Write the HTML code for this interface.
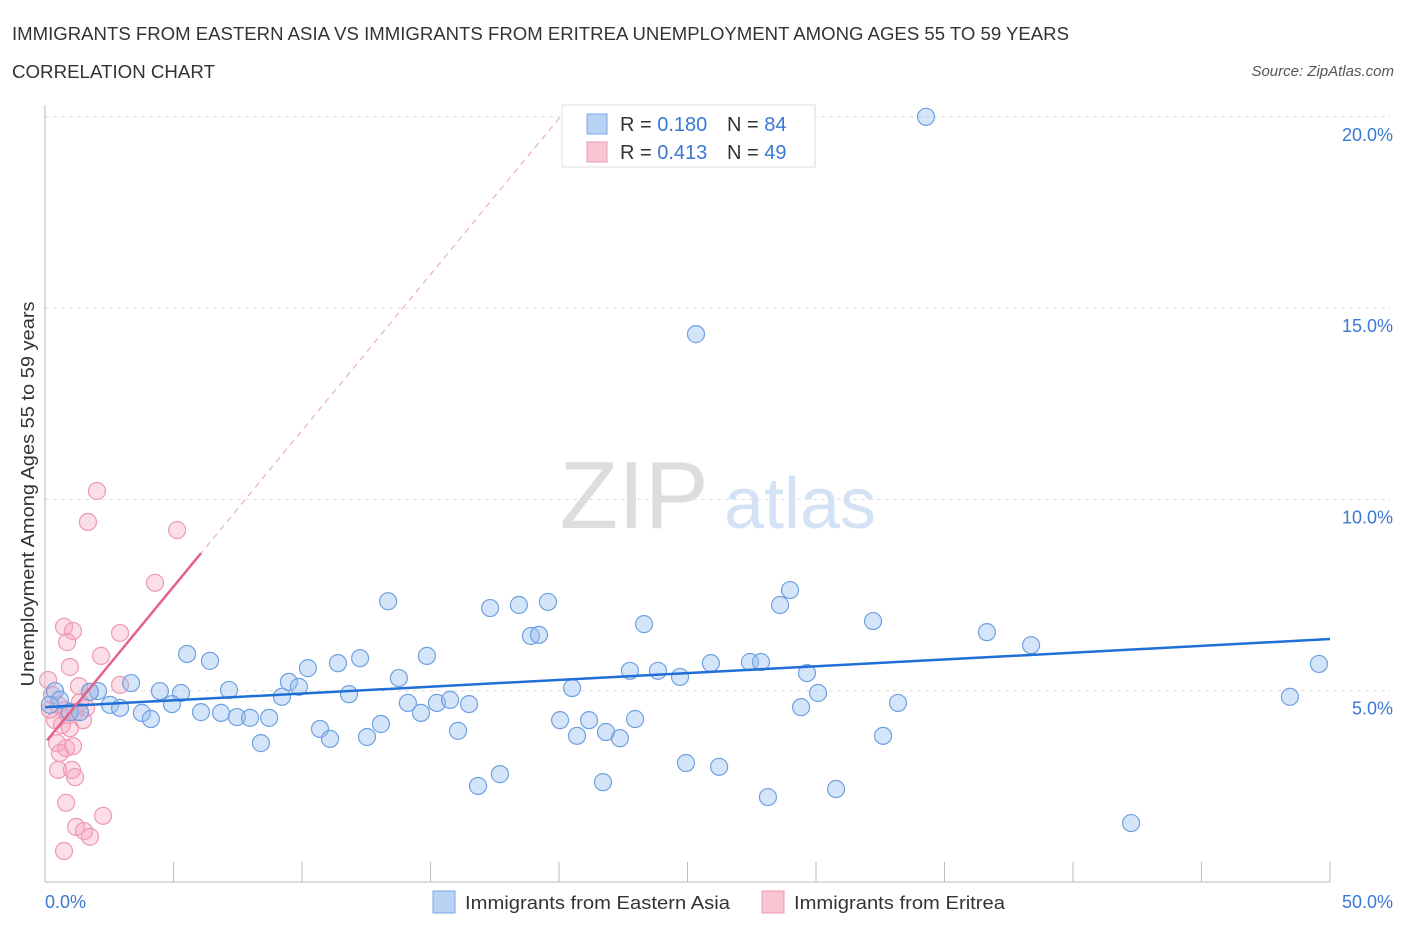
<!DOCTYPE html>
<html><head><meta charset="utf-8"><style>
body{margin:0;background:#fff;font-family:"Liberation Sans",sans-serif}
svg text{font-family:"Liberation Sans",sans-serif}
</style></head><body>
<svg width="1406" height="930" xmlns="http://www.w3.org/2000/svg">
<text x="12" y="40" font-size="18" fill="#333" textLength="1057" lengthAdjust="spacingAndGlyphs">IMMIGRANTS FROM EASTERN ASIA VS IMMIGRANTS FROM ERITREA UNEMPLOYMENT AMONG AGES 55 TO 59 YEARS</text>
<text x="12" y="78" font-size="18" fill="#333" textLength="203" lengthAdjust="spacingAndGlyphs">CORRELATION CHART</text>
<text x="1394" y="76" font-size="15" fill="#555" font-style="italic" text-anchor="end">Source: ZipAtlas.com</text>
<text x="634" y="528" font-size="96" fill="#ddd" font-family="Liberation Serif" text-anchor="middle">ZIP</text>
<text x="800" y="528" font-size="72" fill="#d3e2f5" text-anchor="middle">atlas</text>
<g id="grid"></g>
<g id="axes"></g>
<g id="marks"></g>
<text transform="translate(34,494) rotate(-90)" font-size="18" fill="#333" text-anchor="middle" textLength="385" lengthAdjust="spacingAndGlyphs">Unemployment Among Ages 55 to 59 years</text>
<text x="45" y="908" font-size="18" fill="#3a78d4">0.0%</text>
<text x="1393" y="908" font-size="18" fill="#3a78d4" text-anchor="end">50.0%</text>
<g>
<rect x="562" y="105" width="253" height="62" fill="#fff" stroke="#ddd"/>
<rect x="587" y="114" width="20" height="20" fill="#b9d3f5" stroke="#7aa7e6"/>
<rect x="587" y="142" width="20" height="20" fill="#f9c5d3" stroke="#ec9ab2"/>
<text x="620" y="131" font-size="20" fill="#333">R = <tspan fill="#3a78d4">0.180</tspan><tspan x="727">N = </tspan><tspan fill="#3a78d4">84</tspan></text>
<text x="620" y="159" font-size="20" fill="#333">R = <tspan fill="#3a78d4">0.413</tspan><tspan x="727">N = </tspan><tspan fill="#3a78d4">49</tspan></text>
</g>
<g>
<rect x="433" y="891" width="22" height="22" fill="#b9d3f5" stroke="#7aa7e6"/>
<text x="465" y="909" font-size="18" fill="#333" textLength="265" lengthAdjust="spacingAndGlyphs">Immigrants from Eastern Asia</text>
<rect x="762" y="891" width="22" height="22" fill="#f9c5d3" stroke="#ec9ab2"/>
<text x="794" y="909" font-size="18" fill="#333" textLength="211" lengthAdjust="spacingAndGlyphs">Immigrants from Eritrea</text>
</g>
</svg>
<script>
const yTicks=[5,10,15,20];
const yTickLabels=["5.0%","10.0%","15.0%","20.0%"];
const xTicks=[0,5,10,15,20,25,30,35,40,45,50];
const blueX=[34.28,25.33,13.35,17.32,18.44,19.57,18.91,19.22,23.31,28.99,28.6,32.22,36.65,38.37,49.57,48.44,5.53,6.42,3.35,2.06,1.75,4.47,5.29,4.94,2.53,2.92,3.77,4.12,6.07,6.85,7.47,7.98,8.72,7.16,8.40,9.22,9.49,9.88,10.23,10.70,11.09,11.40,12.26,11.83,12.53,13.07,13.77,14.12,14.63,14.86,15.25,15.76,16.07,16.50,16.85,17.70,20.04,20.51,20.70,21.17,21.71,21.83,22.37,22.76,22.96,23.85,24.71,24.94,25.91,26.23,27.43,27.86,28.13,29.65,29.42,30.08,30.78,32.61,33.19,42.26,0.39,0.58,0.97,1.36,0.19];
const blueY=[20.0,14.32,7.34,7.16,7.24,7.32,6.43,6.46,6.74,7.63,7.24,6.82,6.53,6.19,5.70,4.84,5.96,5.78,5.20,4.99,4.97,4.99,4.94,4.65,4.63,4.55,4.42,4.26,4.44,4.42,4.31,4.29,4.29,5.02,3.63,4.84,5.23,5.10,5.59,4.00,3.74,5.72,5.85,4.91,3.79,4.13,5.33,4.68,4.42,5.91,4.68,4.76,3.95,4.65,2.51,2.82,4.23,5.07,3.82,4.23,2.61,3.92,3.76,5.52,4.26,5.52,5.36,3.11,5.72,3.01,5.75,5.75,2.22,5.46,4.57,4.94,2.43,3.82,4.68,1.54,4.99,4.76,4.44,4.44,4.63];
const pinkX=[2.02,1.67,5.14,4.28,0.74,1.09,0.86,2.92,0.97,2.18,2.92,1.32,0.12,1.75,0.27,0.51,0.78,1.17,0.39,0.66,1.48,0.97,0.47,0.82,0.58,1.09,0.51,1.05,1.17,0.82,2.26,1.21,1.52,1.75,0.74,0.19,1.36,0.90,1.60];
const pinkY=[10.22,9.41,9.20,7.82,6.67,6.56,6.27,6.51,5.62,5.91,5.15,5.12,5.28,4.97,4.89,4.63,4.50,4.44,4.23,4.10,4.23,4.02,3.63,3.50,3.37,3.55,2.93,2.93,2.74,2.07,1.73,1.44,1.33,1.18,0.81,4.50,4.70,4.36,4.55];
const blueTrend=[4.57,6.35];
const pinkTrend=[3.64,0.816];
const NS="http://www.w3.org/2000/svg";
const sx=v=>45+v*25.7, sy=v=>882-v*38.26;
function mk(t,a,p){const e=document.createElementNS(NS,t);for(const k in a)e.setAttribute(k,a[k]);document.getElementById(p).appendChild(e);return e;}
yTicks.forEach((t,i)=>{
 const l=mk('line',{x1:45,x2:1390,y1:sy(t),y2:sy(t),stroke:'#ddd','stroke-dasharray':'4,4'},'grid');
 
 
 const tx=mk('text',{x:1393,y:sy(t)+24,'font-size':18,fill:'#3a78d4','text-anchor':'end'},'grid');
 tx.textContent=yTickLabels[i];
 
 
});
const ax=mk('line',{x1:45,x2:1330,y1:882,y2:882,stroke:'#bbb'},'axes');


const ay=mk('line',{x1:45,x2:45,y1:105,y2:882,stroke:'#bbb'},'axes');


xTicks.forEach(t=>{
 const l=mk('line',{x1:sx(t),x2:sx(t),y1:862,y2:882,stroke:'#bbb'},'axes');
 
 
});
pinkX.forEach((x,i)=>{
 const c=mk('circle',{cx:sx(x),cy:sy(pinkY[i]),r:8.5,fill:'rgba(245,160,185,0.35)',stroke:'#ec9ab2','stroke-width':1.2},'marks');
 
 
});
blueX.forEach((x,i)=>{
 const c=mk('circle',{cx:sx(x),cy:sy(blueY[i]),r:8.5,fill:'rgba(150,190,240,0.4)',stroke:'#6fa0e0','stroke-width':1.2},'marks');
 
 
});
const bt=mk('line',{x1:sx(0),y1:sy(blueTrend[0]),x2:sx(50),y2:sy(blueTrend[1]),stroke:'#1f6fd6','stroke-width':2.5},'marks');


const pe=(20-pinkTrend[0])/pinkTrend[1];
const pd=mk('line',{x1:sx(6),y1:sy(pinkTrend[0]+6*pinkTrend[1]),x2:sx(pe),y2:sy(20),stroke:'#e8a0b4','stroke-width':1,'stroke-dasharray':'6,5'},'marks');


const pt=mk('line',{x1:sx(0.08),y1:sy(pinkTrend[0]+0.08*pinkTrend[1]),x2:sx(6.07),y2:sy(pinkTrend[0]+6.07*pinkTrend[1]),stroke:'#e4628a','stroke-width':2.5},'marks');


</script>
</body></html>
